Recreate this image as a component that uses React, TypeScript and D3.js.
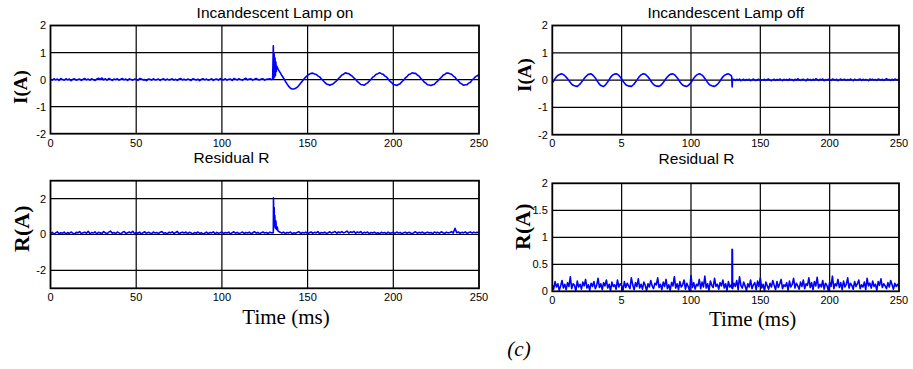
import React from "react";
import * as d3 from "d3";

type Pt = [number, number];

// ---------- data ----------
const X_TICKS = [0, 50, 100, 150, 200, 250];
const X_LABELS_LEFT = ["0", "50", "100", "150", "200", "250"];
const X_LABELS_RIGHT = ["0", "5", "100", "150", "200", "250"];

const Y_TICKS_I = [-2, -1, 0, 1, 2];
const Y_TICKS_RL = [-2, 0, 2];
const Y_TICKS_RR = [0, 0.5, 1, 1.5, 2];
const Y_LABELS_RR = ["0", "0.5", "1", "1.5", "2"];

// Top-left: lamp switched on (t = 0..129 ms, 1 ms steps)
const TL_BASE = [
  0.01, -0.02, 0.03, -0.01, 0.02, -0.03, 0.04, 0.0, -0.02, 0.03,
  -0.01, 0.02, -0.04, 0.01, 0.03, -0.02, 0.0, 0.02, -0.03, 0.01,
  0.04, -0.01, 0.02, -0.02, 0.03, 0.0, -0.03, 0.02, 0.05, 0.01,
  0.06, -0.01, 0.03, -0.02, 0.04, 0.01, -0.03, 0.02, 0.0, 0.03,
  -0.02, 0.01, 0.04, -0.01, 0.02, -0.03, 0.03, 0.0, -0.02, 0.02,
  0.01, -0.03, 0.04, 0.02, -0.01, 0.0, -0.04, 0.02, 0.01, -0.02,
  0.03, -0.01, 0.0, 0.02, -0.03, 0.01, 0.03, -0.02, 0.02, -0.01,
  0.0, 0.03, -0.02, 0.01, -0.03, 0.02, 0.04, -0.01, 0.01, -0.02,
  0.02, 0.0, -0.03, 0.03, 0.01, -0.02, 0.02, -0.04, 0.01, 0.03,
  -0.01, 0.02, -0.02, 0.0, 0.03, -0.03, 0.01, 0.02, -0.02, 0.04,
  0.0, -0.01, 0.03, -0.02, 0.01, 0.02, -0.03, 0.04, 0.01, -0.01,
  0.03, 0.0, -0.02, 0.02, 0.05, -0.01, 0.02, 0.03, -0.02, 0.01,
  0.04, 0.0, -0.01, 0.02, 0.03, -0.02, 0.01, 0.02, 0.03, 0.0,
];
// switch-on transient (t, value)
const TL_SPIKE: Pt[] = [
  [129.6, 0.01], [130.0, 1.25], [130.25, 0.05], [130.5, 0.95], [130.75, 0.1],
  [131.0, 0.8], [131.25, 0.15], [131.5, 0.65], [131.75, 0.3], [132.0, 0.5],
  [132.5, 0.42], [133.0, 0.36], [134.0, 0.26], [135.0, 0.15], [136.0, 0.05],
  [137.0, -0.06], [138.0, -0.16], [139.0, -0.25], [140.0, -0.32], [141.0, -0.35],
  [142.0, -0.35], [143.0, -0.32], [144.0, -0.28], [145.0, -0.21], [146.0, -0.13],
  [147.0, -0.05], [148.0, 0.03], [149.0, 0.1], [150.0, 0.16], [151.0, 0.2], [152.0, 0.23],
];
// steady oscillation, t = 153..250 ms
const TL_OSC = [
  0.24, 0.21, 0.19, 0.14, 0.1, 0.03, -0.03, -0.1, -0.16, -0.18,
  -0.21, -0.18, -0.15, -0.09, -0.04, 0.04, 0.1, 0.17, 0.2, 0.25,
  0.23, 0.22, 0.17, 0.13, 0.06, 0.01, -0.07, -0.12, -0.18, -0.19,
  -0.21, -0.16, -0.12, -0.05, 0.01, 0.09, 0.13, 0.2, 0.22, 0.25,
  0.22, 0.2, 0.14, 0.1, 0.02, -0.06, -0.11, -0.18, -0.19, -0.22,
  -0.18, -0.15, -0.08, -0.02, 0.06, 0.11, 0.19, 0.21, 0.25, 0.23,
  0.23, 0.17, 0.13, 0.05, -0.01, -0.09, -0.13, -0.19, -0.2, -0.22,
  -0.19, -0.17, -0.1, -0.05, 0.03, 0.08, 0.16, 0.19, 0.24, 0.24,
  0.22, 0.2, 0.13, 0.09, 0.0, -0.05, -0.13, -0.16, -0.21, -0.19,
  -0.19, -0.13, -0.1, -0.01, 0.04, 0.11, 0.14, 0.19,
];

// Top-right: lamp switched off, oscillation t = 0..129 ms
const TR_OSC = [
  -0.1, -0.03, 0.05, 0.12, 0.17, 0.2, 0.22, 0.23, 0.2, 0.16,
  0.11, 0.05, -0.02, -0.09, -0.15, -0.19, -0.21, -0.22, -0.23, -0.19,
  -0.14, -0.08, -0.01, 0.06, 0.12, 0.17, 0.21, 0.22, 0.23, 0.19,
  0.14, 0.08, 0.0, -0.08, -0.15, -0.2, -0.22, -0.23, -0.19, -0.13,
  -0.06, 0.02, 0.1, 0.16, 0.2, 0.22, 0.23, 0.21, 0.17, 0.11,
  0.04, -0.04, -0.11, -0.17, -0.2, -0.22, -0.22, -0.23, -0.19, -0.14,
  -0.07, 0.0, 0.08, 0.14, 0.19, 0.22, 0.23, 0.21, 0.17, 0.12,
  0.05, -0.03, -0.1, -0.16, -0.2, -0.22, -0.22, -0.23, -0.2, -0.15,
  -0.09, -0.02, 0.06, 0.12, 0.17, 0.21, 0.22, 0.23, 0.2, 0.15,
  0.09, 0.02, -0.06, -0.13, -0.18, -0.21, -0.22, -0.23, -0.2, -0.15,
  -0.09, -0.01, 0.07, 0.13, 0.18, 0.21, 0.23, 0.21, 0.18, 0.13,
  0.06, -0.01, -0.09, -0.15, -0.19, -0.21, -0.22, -0.23, -0.2, -0.16,
  -0.1, -0.03, 0.05, 0.12, 0.17, 0.2, 0.22, 0.23, 0.2, 0.16,
];
const TR_STEP: Pt[] = [[129.4, 0.12], [129.7, -0.25], [129.9, 0.0], [130.3, 0.03]];
// residual noise t = 131..250 ms
const TR_NOISE = [
  0.02, -0.01, 0.03, 0.0, 0.04, -0.02, 0.01, 0.03, -0.01, 0.02,
  0.0, 0.03, -0.02, 0.01, 0.04, 0.0, -0.01, 0.02, 0.03, -0.02,
  0.01, 0.0, 0.03, -0.01, 0.02, 0.04, 0.0, -0.02, 0.01, 0.03,
  -0.01, 0.02, 0.0, 0.04, 0.01, -0.02, 0.03, 0.0, 0.02, -0.01,
  0.04, 0.01, 0.02, -0.02, 0.03, 0.0, 0.05, 0.01, -0.01, 0.02,
  0.03, 0.0, -0.02, 0.04, 0.01, 0.02, -0.01, 0.03, 0.0, 0.05,
  0.02, -0.01, 0.03, 0.01, 0.04, -0.02, 0.02, 0.0, 0.03, 0.01,
  -0.01, 0.04, 0.02, 0.0, 0.03, -0.02, 0.01, 0.04, 0.0, 0.02,
  0.03, -0.01, 0.02, 0.0, 0.04, 0.01, -0.02, 0.03, 0.01, 0.0,
  0.02, 0.04, -0.01, 0.03, 0.0, 0.02, 0.01, -0.02, 0.04, 0.01,
  0.03, 0.0, 0.02, -0.01, 0.04, 0.02, 0.0, 0.03, -0.01, 0.02,
  0.05, 0.01, 0.02, -0.01, 0.03, 0.0, 0.04, 0.02, 0.01, 0.03,
];

// Bottom-left: residual, lamp on (t = 0..250 ms)
const BL_VALUES = [
  0.05, 0.12, 0.02, 0.09, 0.15, 0.04, 0.1, 0.07, 0.13, 0.03,
  0.11, 0.06, 0.14, 0.08, 0.02, 0.12, 0.09, 0.16, 0.05, 0.1,
  0.13, 0.07, 0.18, 0.04, 0.11, 0.08, 0.15, 0.03, 0.12, 0.09,
  0.06, 0.16, 0.1, 0.04, 0.13, 0.19, 0.07, 0.11, 0.05, 0.14,
  0.09, 0.03, 0.12, 0.17, 0.06, 0.1, 0.14, 0.08, 0.18, 0.05,
  0.11, 0.07, 0.13, 0.03, 0.1, 0.15, 0.06, 0.12, 0.09, 0.04,
  0.14, 0.08, 0.11, 0.05, 0.13, 0.16, 0.07, 0.1, 0.03, 0.12,
  0.09, 0.15, 0.06, 0.11, 0.17, 0.04, 0.1, 0.13, 0.08, 0.14,
  0.05, 0.12, 0.09, 0.03, 0.11, 0.07, 0.14, 0.06, 0.1, 0.02,
  0.08, 0.13, 0.05, 0.11, 0.09, 0.15, 0.04, 0.12, 0.07, 0.1,
  0.14, 0.06, 0.11, 0.08, 0.13, 0.03, 0.1, 0.15, 0.07, 0.12,
  0.05, 0.09, 0.14, 0.06, 0.11, 0.08, 0.13, 0.04, 0.1, 0.16,
  0.07, 0.12, 0.05, 0.1, 0.14, 0.08, 0.11, 0.06, 0.13, 0.09,
  0.1, 0.6, 0.35, 0.18, 0.12, 0.08, 0.13, 0.06, 0.11, 0.09,
  0.14, 0.05, 0.1, 0.07, 0.12, 0.15, 0.06, 0.11, 0.08, 0.13,
  0.04, 0.1, 0.14, 0.07, 0.12, 0.09, 0.16, 0.05, 0.11, 0.08,
  0.13, 0.06, 0.1, 0.15, 0.08, 0.12, 0.17, 0.07, 0.14, 0.1,
  0.16, 0.09, 0.13, 0.19, 0.08, 0.15, 0.11, 0.18, 0.07, 0.14,
  0.1, 0.16, 0.06, 0.12, 0.09, 0.14, 0.05, 0.11, 0.08, 0.13,
  0.06, 0.1, 0.04, 0.12, 0.08, 0.11, 0.05, 0.13, 0.07, 0.09,
  0.12, 0.06, 0.14, 0.08, 0.11, 0.05, 0.1, 0.13, 0.07, 0.12,
  0.09, 0.04, 0.11, 0.15, 0.07, 0.12, 0.08, 0.14, 0.06, 0.1,
  0.13, 0.08, 0.11, 0.05, 0.14, 0.09, 0.12, 0.07, 0.15, 0.1,
  0.06, 0.13, 0.09, 0.11, 0.16, 0.08, 0.35, 0.1, 0.14, 0.07,
  0.12, 0.09, 0.15, 0.06, 0.11, 0.14, 0.08, 0.13, 0.1, 0.12,
  0.09,
];
const BL_SPIKE: Pt[] = [
  [130.1, 2.05], [130.3, 0.5], [130.5, 1.5], [130.7, 0.45], [130.9, 1.05],
  [131.2, 0.35], [131.5, 0.75], [131.8, 0.28], [132.3, 0.42], [132.7, 0.2],
];

// Bottom-right: residual, lamp off (t = 0..250 ms)
const BR_VALUES = [
  0.12, 0.04, 0.18, 0.08, 0.14, 0.02, 0.1, 0.2, 0.06, 0.13,
  0.03, 0.16, 0.09, 0.27, 0.05, 0.14, 0.11, 0.01, 0.19, 0.08,
  0.13, 0.04, 0.17, 0.1, 0.22, 0.06, 0.12, 0.02, 0.15, 0.09,
  0.18, 0.05, 0.11, 0.24, 0.07, 0.14, 0.03, 0.16, 0.1, 0.21,
  0.06, 0.13, 0.01, 0.17, 0.09, 0.12, 0.04, 0.21, 0.08, 0.14,
  0.11, 0.02, 0.18, 0.07, 0.15, 0.1, 0.05, 0.25, 0.12, 0.03,
  0.16, 0.09, 0.23, 0.06, 0.13, 0.04, 0.17, 0.11, 0.01, 0.14,
  0.08, 0.2, 0.1, 0.05, 0.15, 0.12, 0.25, 0.07, 0.13, 0.03,
  0.17, 0.09, 0.22, 0.05, 0.12, 0.02, 0.16, 0.1, 0.27, 0.06,
  0.14, 0.03, 0.18, 0.08, 0.12, 0.21, 0.04, 0.15, 0.09, 0.01,
  0.29, 0.07, 0.16, 0.04, 0.13, 0.1, 0.22, 0.05, 0.17, 0.08,
  0.28, 0.06, 0.14, 0.02, 0.19, 0.11, 0.07, 0.24, 0.09, 0.13,
  0.04, 0.16, 0.1, 0.21, 0.06, 0.14, 0.02, 0.18, 0.08, 0.12,
  0.05, 0.15, 0.09, 0.2, 0.03, 0.27, 0.11, 0.06, 0.17, 0.1,
  0.02, 0.14, 0.08, 0.21, 0.05, 0.12, 0.16, 0.03, 0.19, 0.09,
  0.25, 0.06, 0.13, 0.01, 0.17, 0.1, 0.04, 0.15, 0.08, 0.2,
  0.11, 0.03, 0.18, 0.07, 0.14, 0.22, 0.05, 0.12, 0.09, 0.16,
  0.02, 0.19, 0.08, 0.13, 0.24, 0.06, 0.15, 0.1, 0.04, 0.17,
  0.09, 0.21, 0.05, 0.14, 0.11, 0.25, 0.07, 0.16, 0.03, 0.18,
  0.1, 0.26, 0.06, 0.13, 0.08, 0.2, 0.04, 0.15, 0.11, 0.02,
  0.17, 0.09, 0.28, 0.05, 0.14, 0.1, 0.22, 0.07, 0.16, 0.03,
  0.19, 0.08, 0.13, 0.25, 0.06, 0.15, 0.11, 0.04, 0.18, 0.09,
  0.14, 0.21, 0.05, 0.12, 0.08, 0.17, 0.03, 0.24, 0.1, 0.15,
  0.06, 0.19, 0.09, 0.13, 0.02, 0.18, 0.11, 0.23, 0.07, 0.14,
  0.1, 0.05, 0.16, 0.08, 0.2, 0.12, 0.04, 0.15, 0.09, 0.13,
  0.07,
];
const BR_SPIKE: Pt[] = [[129.5, 0.06], [129.6, 0.78], [129.9, 0.77]];

// ---------- helpers ----------
const fromSteps = (start: number, vals: number[]): Pt[] => vals.map((v, i) => [start + i, v] as Pt);
const merge = (...parts: Pt[][]): Pt[] => parts.flat().sort((a, b) => a[0] - b[0]);

const TL_DATA = merge(fromSteps(0, TL_BASE), TL_SPIKE, fromSteps(153, TL_OSC));
const TR_DATA = merge(fromSteps(0, TR_OSC), TR_STEP, fromSteps(131, TR_NOISE));
const BL_DATA = merge(fromSteps(0, BL_VALUES), BL_SPIKE);
const BR_DATA = merge(fromSteps(0, BR_VALUES), BR_SPIKE);

const SANS = "'Liberation Sans', Arial, Helvetica, sans-serif";
const SERIF = "'Liberation Serif', 'Times New Roman', Times, serif";

interface PanelCfg {
  id: string;
  x0: number; x1: number; y0: number; y1: number;
  yDomain: [number, number];
  yTicks: number[];
  yLabels: string[];
  xLabels: string[];
  xLabelBase: number;
  data: Pt[];
}

function Panel({ c }: { c: PanelCfg }) {
  const x = d3.scaleLinear().domain([0, 250]).range([c.x0, c.x1]);
  const y = d3.scaleLinear().domain(c.yDomain).range([c.y1, c.y0]);
  const line = d3.line<Pt>().x((d) => x(d[0])).y((d) => y(d[1]));
  const inner = c.yTicks.filter((t) => t !== c.yDomain[0] && t !== c.yDomain[1]);
  const innerX = X_TICKS.filter((t) => t !== 0 && t !== 250);
  return (
    <g>
      <defs>
        <clipPath id={`clip-${c.id}`}>
          <rect x={c.x0} y={c.y0} width={c.x1 - c.x0} height={c.y1 - c.y0} />
        </clipPath>
      </defs>
      <rect x={c.x0} y={c.y0} width={c.x1 - c.x0} height={c.y1 - c.y0} fill="#fff" />
      {innerX.map((t) => (
        <line key={`gx${t}`} x1={x(t)} x2={x(t)} y1={c.y0} y2={c.y1} stroke="#000" strokeWidth={1.2} />
      ))}
      {inner.map((t) => (
        <line key={`gy${t}`} x1={c.x0} x2={c.x1} y1={y(t)} y2={y(t)} stroke="#000" strokeWidth={1.2} />
      ))}
      <path d={line(c.data) || ""} fill="none" stroke="#0000ff" strokeWidth={1.6} strokeLinejoin="round" clipPath={`url(#clip-${c.id})`} />
      <rect x={c.x0} y={c.y0} width={c.x1 - c.x0} height={c.y1 - c.y0} fill="none" stroke="#000" strokeWidth={1.8} />
      {c.yTicks.map((t, i) => (
        <text key={`ty${t}`} x={c.x0 - 4.5} y={y(t)} dy="0.36em" textAnchor="end" fontFamily={SANS} fontSize={11} fill="#000">
          {c.yLabels[i]}
        </text>
      ))}
      {X_TICKS.map((t, i) => (
        <text key={`tx${t}`} x={x(t)} y={c.xLabelBase} textAnchor="middle" fontFamily={SANS} fontSize={11} fill="#000">
          {c.xLabels[i]}
        </text>
      ))}
    </g>
  );
}

const PANELS: PanelCfg[] = [
  { id: "tl", x0: 50.5, x1: 479, y0: 25.5, y1: 133.7, yDomain: [-2, 2], yTicks: Y_TICKS_I, yLabels: Y_TICKS_I.map(String), xLabels: X_LABELS_LEFT, xLabelBase: 146.6, data: TL_DATA },
  { id: "tr", x0: 552.3, x1: 899, y0: 25.5, y1: 134.7, yDomain: [-2, 2], yTicks: Y_TICKS_I, yLabels: Y_TICKS_I.map(String), xLabels: X_LABELS_RIGHT, xLabelBase: 147.2, data: TR_DATA },
  { id: "bl", x0: 50.5, x1: 479, y0: 180.7, y1: 288.3, yDomain: [-3, 3], yTicks: Y_TICKS_RL, yLabels: Y_TICKS_RL.map(String), xLabels: X_LABELS_LEFT, xLabelBase: 301.2, data: BL_DATA },
  { id: "br", x0: 552.3, x1: 899, y0: 183.3, y1: 291.3, yDomain: [0, 2], yTicks: Y_TICKS_RR, yLabels: Y_LABELS_RR, xLabels: X_LABELS_RIGHT, xLabelBase: 304, data: BR_DATA },
];

export default function App() {
  return (
    <svg width={913} height={369} viewBox="0 0 913 369" style={{ position: "absolute", left: 0, top: 0, background: "#fff" }}>
      <rect x={0} y={0} width={913} height={369} fill="#fff" />
      {PANELS.map((p) => (
        <Panel key={p.id} c={p} />
      ))}
      {/* titles */}
      <text x={275} y={18.3} textAnchor="middle" fontFamily={SANS} fontSize={15.5}>Incandescent Lamp on</text>
      <text x={725.7} y={18.3} textAnchor="middle" fontFamily={SANS} fontSize={15.5}>Incandescent Lamp off</text>
      <text x={231.5} y={162.5} textAnchor="middle" fontFamily={SANS} fontSize={15.5}>Residual R</text>
      <text x={696.5} y={163.5} textAnchor="middle" fontFamily={SANS} fontSize={15.5}>Residual R</text>
      {/* y labels */}
      <text transform="translate(21,87) rotate(-90)" dy="0.33em" textAnchor="middle" fontFamily={SERIF} fontWeight="bold" fontSize={19}>I(A)</text>
      <text transform="translate(525,75) rotate(-90)" dy="0.33em" textAnchor="middle" fontFamily={SERIF} fontWeight="bold" fontSize={19}>I(A)</text>
      <text transform="translate(21.7,228.7) rotate(-90)" dy="0.33em" textAnchor="middle" fontFamily={SERIF} fontWeight="bold" fontSize={22}>R(A)</text>
      <text transform="translate(523,226.7) rotate(-90)" dy="0.33em" textAnchor="middle" fontFamily={SERIF} fontWeight="bold" fontSize={22}>R(A)</text>
      {/* x labels */}
      <text x={286} y={324} textAnchor="middle" fontFamily={SERIF} fontSize={21}>Time (ms)</text>
      <text x={752.7} y={326} textAnchor="middle" fontFamily={SERIF} fontSize={21}>Time (ms)</text>
      <text x={519} y={356} textAnchor="middle" fontFamily={SERIF} fontStyle="italic" fontSize={21}>(c)</text>
    </svg>
  );
}
